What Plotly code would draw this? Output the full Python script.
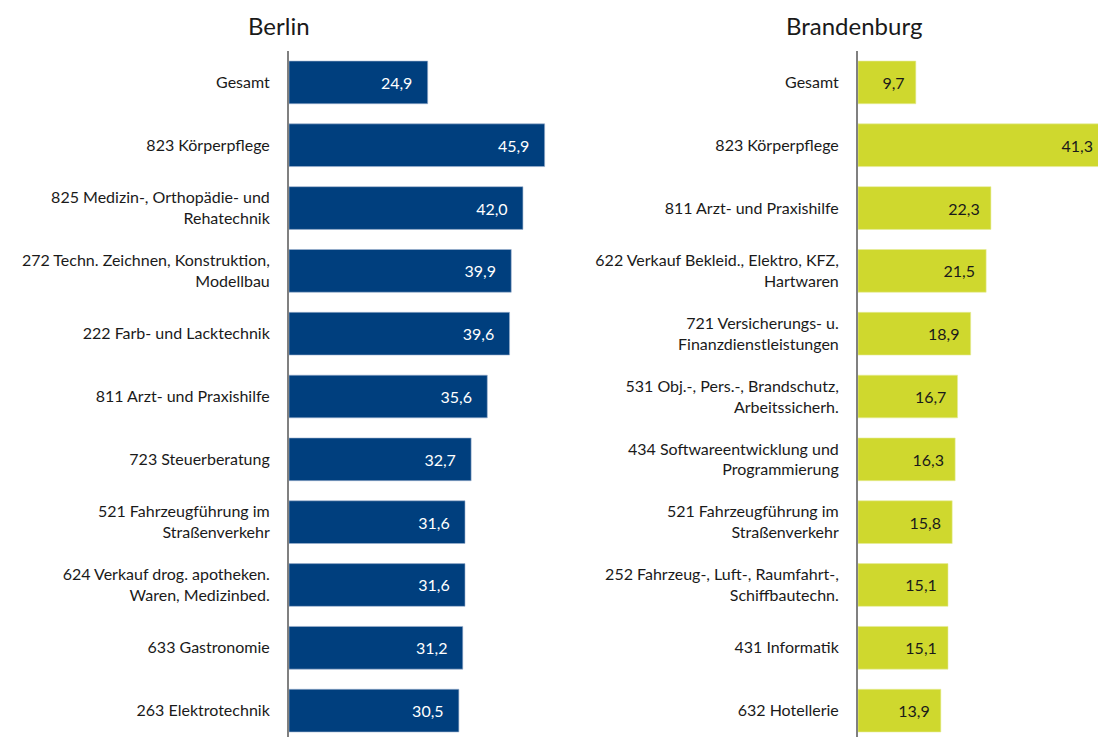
import plotly.graph_objects as go

berlin_labels = [
    "Gesamt",
    "823 Körperpflege",
    "825 Medizin-, Orthopädie- und<br>Rehatechnik",
    "272 Techn. Zeichnen, Konstruktion,<br>Modellbau",
    "222 Farb- und Lacktechnik",
    "811 Arzt- und Praxishilfe",
    "723 Steuerberatung",
    "521 Fahrzeugführung im<br>Straßenverkehr",
    "624 Verkauf drog. apotheken.<br>Waren, Medizinbed.",
    "633 Gastronomie",
    "263 Elektrotechnik",
]
berlin_values = [24.9, 45.9, 42.0, 39.9, 39.6, 35.6, 32.7, 31.6, 31.6, 31.2, 30.5]

brb_labels = [
    "Gesamt",
    "823 Körperpflege",
    "811 Arzt- und Praxishilfe",
    "622 Verkauf Bekleid., Elektro, KFZ,<br>Hartwaren",
    "721 Versicherungs- u.<br>Finanzdienstleistungen",
    "531 Obj.-, Pers.-, Brandschutz,<br>Arbeitssicherh.",
    "434 Softwareentwicklung und<br>Programmierung",
    "521 Fahrzeugführung im<br>Straßenverkehr",
    "252 Fahrzeug-, Luft-, Raumfahrt-,<br>Schiffbautechn.",
    "431 Informatik",
    "632 Hotellerie",
]
brb_values = [9.7, 41.3, 22.3, 21.5, 18.9, 16.7, 16.3, 15.8, 15.1, 15.1, 13.9]

NAVY = "#003f7e"
LIME = "#cfd82e"
FONT = "Lato, Roboto, sans-serif"

# the page puts the figure 8px in from the top-left corner
W, H = 1098, 729

fig = go.Figure()

fig.add_trace(go.Bar(
    x=berlin_values, y=berlin_labels, orientation="h",
    marker=dict(color=NAVY, line=dict(color="#9fb4d0", width=0.6)),
    width=0.68,
    texttemplate="%{x:.1f}\u00a0\u00a0\u00a0", textposition="inside",
    insidetextanchor="end", textangle=0,
    textfont=dict(color="white", size=16, family=FONT),
    xaxis="x", yaxis="y", showlegend=False, hoverinfo="skip",
))

fig.add_trace(go.Bar(
    x=brb_values, y=brb_labels, orientation="h",
    marker=dict(color=LIME, line=dict(color="#e6ec9a", width=0.6)),
    width=0.68,
    texttemplate="%{x:.1f}\u00a0\u00a0", textposition="inside",
    insidetextanchor="end", textangle=0,
    textfont=dict(color="#1a1a1a", size=16, family=FONT),
    xaxis="x2", yaxis="y2", showlegend=False, hoverinfo="skip",
))

yax = dict(
    type="category", range=[10.42, -0.5], domain=[0, 1 - 43 / H],
    showline=True, linecolor="#808080", linewidth=2, showgrid=False,
    ticks="", ticklabelstandoff=14, zeroline=False,
    tickfont=dict(size=16, family=FONT, color="#1a1a1a"),
)
xax = dict(visible=False, showgrid=False, zeroline=False, fixedrange=True)

title_font = dict(size=24, family=FONT, color="#1a1a1a")

fig.update_layout(
    width=W, height=H,
    margin=dict(l=0, r=0, t=0, b=0),
    paper_bgcolor="white", plot_bgcolor="white",
    separators=",.",
    xaxis=dict(xax, domain=[281 / W, (281 + 278.5) / W], range=[0, 50]),
    xaxis2=dict(xax, domain=[850 / W, 1092 / W], range=[0, 40.6]),
    yaxis=dict(yax, anchor="x", categoryorder="array", categoryarray=berlin_labels),
    yaxis2=dict(yax, anchor="x2", categoryorder="array", categoryarray=brb_labels),
    annotations=[
        dict(text="Berlin", x=271 / W, y=1 - 17 / H, xref="paper", yref="paper",
             showarrow=False, font=title_font, xanchor="center", yanchor="middle"),
        dict(text="Brandenburg", x=846 / W, y=1 - 17 / H, xref="paper", yref="paper",
             showarrow=False, font=title_font, xanchor="center", yanchor="middle"),
    ],
)

fig.write_html("out.html")
